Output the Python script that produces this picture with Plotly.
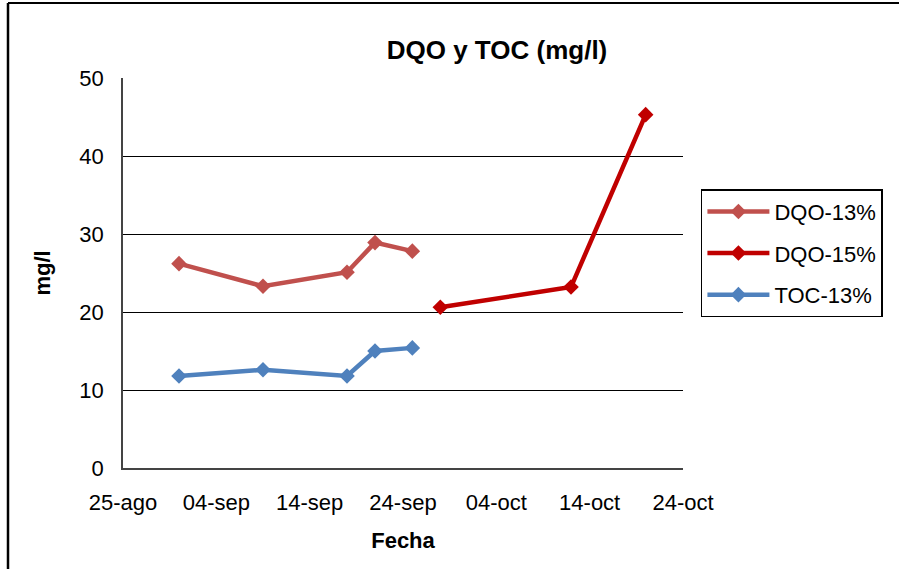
import plotly.graph_objects as go

dqo13_dates = ["2013-08-31", "2013-09-09", "2013-09-18", "2013-09-21", "2013-09-25"]
dqo13_vals = [26.2, 23.3, 25.1, 28.9, 27.8]
dqo15_dates = ["2013-09-28", "2013-10-12", "2013-10-20"]
dqo15_vals = [20.6, 23.2, 45.3]
toc13_dates = ["2013-08-31", "2013-09-09", "2013-09-18", "2013-09-21", "2013-09-25"]
toc13_vals = [11.8, 12.6, 11.8, 15.0, 15.4]
tick_dates = ["2013-08-25", "2013-09-04", "2013-09-14", "2013-09-24", "2013-10-04", "2013-10-14", "2013-10-24"]
tick_labels = ["25-ago", "04-sep", "14-sep", "24-sep", "04-oct", "14-oct", "24-oct"]

FONT = "Liberation Sans, Arial, sans-serif"

fig = go.Figure()
for i, (name, xs, ys, col) in enumerate([("DQO-13%", dqo13_dates, dqo13_vals, "#C0504D"),
                                         ("DQO-15%", dqo15_dates, dqo15_vals, "#C00000"),
                                         ("TOC-13%", toc13_dates, toc13_vals, "#4F81BD")]):
    fig.add_trace(go.Scatter(x=xs, y=ys, name=name, mode="lines+markers",
                             legendgroup=f"g{i}",
                             line=dict(color=col, width=4.5),
                             marker=dict(symbol="diamond", size=12, color=col)))

fig.update_layout(
    width=899, height=569,
    margin=dict(l=123, r=216, t=78, b=101, autoexpand=False),
    paper_bgcolor="white", plot_bgcolor="white",
    font=dict(family=FONT, size=22, color="black"),
    title=dict(text="<b>DQO y TOC (mg/l)</b>", x=497/899, xanchor="center",
               y=1 - 50/569, yanchor="middle", font=dict(size=26, family=FONT)),
    showlegend=True,
    legend=dict(x=1.032, xanchor="left", y=0.715, yanchor="top",
                bordercolor="black", borderwidth=1.5, bgcolor="white",
                font=dict(size=22, family=FONT), tracegroupgap=10,
                itemwidth=62),
    xaxis=dict(type="date", range=["2013-08-25", "2013-10-24"],
               tickvals=tick_dates, ticktext=tick_labels, showgrid=False,
               showline=True, linecolor="#444", linewidth=1.5, ticks="",
               ticklabelstandoff=14,
               title=dict(text="<b>Fecha</b>", font=dict(size=22), standoff=18)),
    yaxis=dict(range=[0, 50], tickvals=[0, 10, 20, 30, 40, 50], showgrid=True,
               gridcolor="black", gridwidth=1.2, showline=True, linecolor="#444",
               linewidth=1.5, ticks="", zeroline=False, ticklabelstandoff=13,
               title=dict(text="<b>mg/l</b>", font=dict(size=22), standoff=23)),
)

fig.add_shape(type="line", xref="paper", yref="paper",
              x0=(8 - 123) / 560, x1=1.5, y0=(468 - 3) / 390, y1=(468 - 3) / 390,
              line=dict(color="black", width=2))
fig.add_shape(type="line", xref="paper", yref="paper",
              x0=(8 - 123) / 560, x1=(8 - 123) / 560, y0=(468 - 3) / 390, y1=-0.4,
              line=dict(color="black", width=2.5))

fig.write_html("out.html", config={"displayModeBar": False},
               post_script="document.body.style.margin='0';")
